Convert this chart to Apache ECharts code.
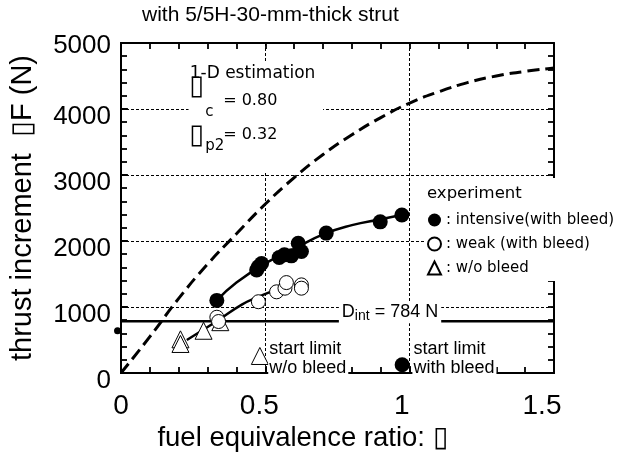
<!DOCTYPE html>
<html><head><meta charset="utf-8">
<script src="https://cdn.jsdelivr.net/npm/echarts@6/dist/echarts.min.js"></script>
<style>html,body{margin:0;padding:0;background:#fff}#c{width:621px;height:459px}</style>
</head><body><div id="c"></div>
<script>
// ---- data ----
const xTicks = [0, 0.5, 1, 1.5];
const yTicks = [0, 1000, 2000, 3000, 4000, 5000];
// 1-D estimation (dashed)
const phiEst = [0, 0.1, 0.2, 0.3, 0.4, 0.5, 0.6, 0.7, 0.8, 0.9, 1.0, 1.1, 1.2, 1.3, 1.4, 1.5];
const FEst   = [0, 550, 1130, 1650, 2110, 2560, 2960, 3310, 3610, 3870, 4090, 4260, 4400, 4500, 4570, 4620];
// experiment: intensive (with bleed)
const phiInt = [0.332, 0.470, 0.476, 0.487, 0.548, 0.566, 0.590, 0.614, 0.625, 0.711, 0.898, 0.973];
const FInt   = [1100, 1560, 1610, 1660, 1750, 1790, 1775, 1965, 1840, 2120, 2290, 2395];
// experiment: weak (with bleed)
const phiWeak = [0.332, 0.338, 0.476, 0.539, 0.568, 0.573, 0.625, 0.625];
const FWeak   = [845, 780, 1080, 1230, 1285, 1370, 1335, 1285];
// experiment: w/o bleed
const phiWo = [0.206, 0.206, 0.286, 0.344];
const FWo   = [510, 440, 640, 770];
// fitted curves
const phiFitInt = [0.332, 0.4, 0.5, 0.6, 0.7, 0.8, 0.9, 1.0];
const FFitInt   = [1100, 1370, 1660, 1880, 2100, 2240, 2330, 2420];
const phiFitWeak = [0.228, 0.33, 0.42, 0.48, 0.53, 0.57];
const FFitWeak   = [500, 780, 1040, 1160, 1250, 1320];
// start limits
const phiStartWo = [0.481];   const FStartWo = [258];
const phiStartWith = [0.974]; const FStartWith = [125];
// intake drag
const Dint = 784;
const phiDline = [0, 1.5];
// stray marker on the axis
const phiStray = [-0.012]; const FStray = [640];

const zip = (a, b) => a.map((v, i) => [v, b[i]]);
const SANS = 'Liberation Sans';
const DJ = 'DejaVu Sans';
const BOX = '\u25AF';

const chart = echarts.init(document.getElementById('c'), null, {renderer: 'canvas'});

const gridLine = {show: true, lineStyle: {color: '#000', width: 1, type: [3, 2]}};

function tickAxis(pos, min, max, interval, len, extra) {
  return Object.assign({
    type: 'value', position: pos, min: min, max: max, interval: interval,
    axisLine: {show: true, onZero: false, lineStyle: {color: '#000', width: 2}},
    axisTick: {show: true, inside: true, length: len, lineStyle: {color: '#000', width: 1.8}},
    axisLabel: {show: false},
    splitLine: {show: false}
  }, extra || {});
}

const xLabRich = {
  a: {fontSize: 28, fontFamily: SANS, color: '#000'},
  b: {fontSize: 28, fontFamily: SANS, color: '#000', padding: [0, 12, 0, 0]},
  c: {fontSize: 28, fontFamily: SANS, color: '#000', padding: [0, 16, 0, 0]},
  d: {fontSize: 28, fontFamily: SANS, color: '#000', padding: [0, 24, 0, 0]}
};
const yLabRich = {
  n: {fontSize: 26, fontFamily: SANS, color: '#000', padding: [16, 0, 0, 0]},
  t: {fontSize: 26, fontFamily: SANS, color: '#000', padding: [6, 0, 0, 0]}
};

const txt = (coord, text, size, font, extra) => ({
  coord: coord, symbol: 'circle', symbolSize: 0,
  label: Object.assign({show: true, position: 'right', distance: 0, formatter: text,
    fontSize: size, fontFamily: font, color: '#000', opacity: 1}, extra || {})
});

const option = {
  animation: false,
  backgroundColor: '#fff',
  title: [
    {text: 'with 5/5H-30-mm-thick strut', left: 142, top: 5, padding: 0,
     textStyle: {fontFamily: SANS, fontSize: 21, fontWeight: 'normal', color: '#000'}},
    {text: 'experiment', left: 427, top: 185, padding: 0, z: 6,
     textStyle: {fontFamily: DJ, fontSize: 16.5, fontWeight: 'normal', color: '#000'}}
  ],
  legend: {
    data: ['intensive(with bleed)', 'weak (with bleed)', 'w/o bleed'],
    orient: 'vertical', left: 425, top: 178, padding: [33, 8, 4, 2],
    itemWidth: 13, itemHeight: 13, itemGap: 6,
    formatter: ': {name}', selectedMode: false,
    backgroundColor: '#fff', z: 5,
    textStyle: {fontFamily: DJ, fontSize: 15, lineHeight: 18, color: '#000'}
  },
  grid: {left: 117, right: 67, top: 43, bottom: 86},
  xAxis: [
    tickAxis('bottom', 0, 1.5, 0.5, 7, {
      name: 'fuel equivalence ratio: ' + BOX, nameLocation: 'middle', nameGap: 50,
      nameTextStyle: {fontFamily: SANS, fontSize: 27.5, color: '#000', padding: [0, 70, 0, 0]},
      splitLine: gridLine,
      axisLabel: {show: true, margin: 19, fontSize: 28, fontFamily: SANS, color: '#000',
        formatter: v => {
          const i = xTicks.indexOf(v);
          const k = ['a', 'b', 'c', 'd'][i];
          return '{' + k + '|' + String(v) + '}';
        }, rich: xLabRich}
    }),
    tickAxis('bottom', 0, 1.5, 0.1, 6),
    tickAxis('top', 0, 1.5, 0.1, 6)
  ],
  yAxis: [
    tickAxis('left', 0, 5000, 1000, 7, {
      name: 'thrust increment  ' + BOX + 'F (N)', nameLocation: 'middle', nameGap: 84,
      nameTextStyle: {fontFamily: SANS, fontSize: 29, color: '#000'},
      splitLine: gridLine,
      axisLabel: {show: true, margin: 10, fontSize: 26, fontFamily: SANS, color: '#000',
        formatter: v => (v === yTicks[yTicks.length - 1] ? '{t|' + v + '}' : '{n|' + v + '}'),
        rich: yLabRich}
    }),
    tickAxis('left', 0, 5000, 200, 6),
    tickAxis('right', 0, 5000, 200, 6)
  ],
  series: [
    { // white panel behind the 1-D estimation text
      type: 'line', name: 'bgpanel', data: [], z: 1, silent: true,
      markArea: {silent: true, itemStyle: {color: '#fff', opacity: 1},
        data: [[{coord: [0.234, 3045]}, {coord: [0.70, 4700]}]]}
    },
    {
      type: 'line', name: '1-D estimation', data: zip(phiEst, FEst), smooth: true,
      showSymbol: false, symbol: 'none', z: 2,
      lineStyle: {color: '#000', width: 3, type: [12, 6]}
    },
    {
      type: 'line', name: 'fit intensive', data: zip(phiFitInt, FFitInt), smooth: true,
      showSymbol: false, symbol: 'none', z: 2, lineStyle: {color: '#000', width: 2.5}
    },
    {
      type: 'line', name: 'fit weak', data: zip(phiFitWeak, FFitWeak), smooth: true,
      showSymbol: false, symbol: 'none', z: 2, lineStyle: {color: '#000', width: 2.5}
    },
    {
      type: 'line', name: 'Dint', data: phiDline.map(p => [p, Dint]),
      showSymbol: false, symbol: 'none', z: 2, lineStyle: {color: '#000', width: 2.5}
    },
    {
      type: 'scatter', name: 'w/o bleed', data: zip(phiWo, FWo), symbol: 'triangle',
      symbolSize: 17, z: 3,
      itemStyle: {color: '#fff', borderColor: '#000', borderWidth: 1, opacity: 1}
    },
    {
      type: 'scatter', name: 'weak (with bleed)', data: zip(phiWeak, FWeak), symbol: 'circle',
      symbolSize: 14, z: 3,
      itemStyle: {color: '#fff', borderColor: '#000', borderWidth: 1, opacity: 1}
    },
    {
      type: 'scatter', name: 'intensive(with bleed)', data: zip(phiInt, FInt), symbol: 'circle',
      symbolSize: 15, z: 3,
      itemStyle: {color: '#000', opacity: 1}
    },
    {
      type: 'scatter', name: 'start limit w/o bleed', data: zip(phiStartWo, FStartWo),
      symbol: 'triangle', symbolSize: 17, z: 3,
      itemStyle: {color: '#fff', borderColor: '#000', borderWidth: 1, opacity: 1}
    },
    {
      type: 'scatter', name: 'start limit with bleed', data: zip(phiStartWith, FStartWith),
      symbol: 'circle', symbolSize: 15, z: 3,
      itemStyle: {color: '#000', opacity: 1}
    },
    {
      type: 'scatter', name: 'stray', data: zip(phiStray, FStray), symbol: 'circle',
      symbolSize: 7, z: 3, clip: false, itemStyle: {color: '#000', opacity: 1}
    },
    { // text annotations anchored in data space
      type: 'scatter', name: 'annotations', data: [], z: 5, silent: true,
      markPoint: {
        silent: true,
        data: [
          txt([0.238, 4530], '1-D estimation', 17, DJ),
          txt([0.236, 4330], BOX, 27, DJ),
          txt([0.292, 3955], 'c', 15, DJ),
          txt([0.354, 4121], '= 0.80', 16, DJ),
          txt([0.236, 3590], BOX, 27, DJ),
          txt([0.292, 3440], 'p2', 15, DJ),
          txt([0.354, 3614], '= 0.32', 16, DJ),
          txt([0.51, 250], 'start limit\nw/o bleed', 18, SANS,
            {lineHeight: 19, backgroundColor: '#fff', padding: [0, 2, 0, 1], offset: [0, 2]}),
          txt([1.006, 130], 'start limit\nwith bleed', 18, SANS,
            {lineHeight: 19, backgroundColor: '#fff', padding: [0, 2, 0, 1], offset: [1, -6]}),
          {
            coord: [0.932, Dint], symbol: 'circle', symbolSize: 0,
            label: {show: true, position: 'inside', offset: [0, -9],
              formatter: '{d|D}{s|int}{e| = 784 N}',
              backgroundColor: '#fff', padding: [2, 3, 0, 3],
              rich: {
                d: {fontFamily: SANS, fontSize: 18, color: '#000', lineHeight: 20, verticalAlign: 'top'},
                s: {fontFamily: SANS, fontSize: 14, color: '#000', lineHeight: 16, verticalAlign: 'bottom', padding: [10, 0, 0, 0]},
                e: {fontFamily: SANS, fontSize: 18, color: '#000', lineHeight: 20, verticalAlign: 'top'}
              }}
          }
        ]
      }
    }
  ]
};
chart.setOption(option);
</script>
</body></html>
